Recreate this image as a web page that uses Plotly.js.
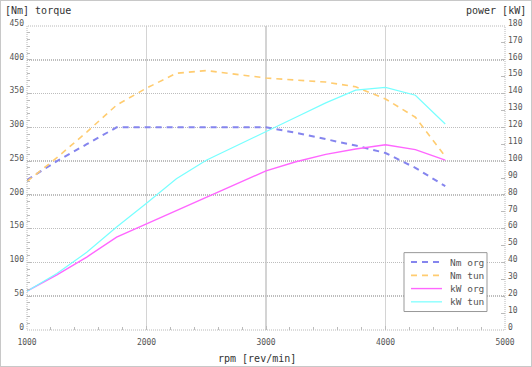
<!DOCTYPE html>
<html>
<head>
<meta charset="utf-8">
<script src="https://cdn.plot.ly/plotly-3.0.1.min.js"></script>
<style>
html,body{margin:0;padding:0;background:#fff;}
#chart{width:532px;height:367px;}
</style>
</head>
<body>
<div id="chart"></div>
<script>
// rpm sample points
const rpm = [1000, 1250, 1500, 1750, 2000, 2250, 2500, 2750, 3000, 3250, 3500, 3750, 4000, 4250, 4500];
// torque [Nm]
const nmOrg = [222, 250, 275, 300, 300, 300, 300, 300, 300, 292, 283, 273, 262, 240, 213];
const nmTun = [220, 255, 293, 333, 358, 380, 384, 378, 373, 370, 367, 360, 342, 315, 257];
// power [kW]
const kwOrg = [23, 32.7, 43.2, 55, 62.8, 70.7, 78.5, 86.4, 94.2, 99.6, 104, 107.2, 109.7, 106.8, 100.6];
const kwTun = [23, 33.4, 46, 61, 75, 89.5, 100.5, 108.9, 117.2, 126, 134.5, 142, 143.6, 139, 122];

const seriesNames = ['Nm org', 'Nm tun', 'kW org', 'kW tun'];
const leftTicks = [0, 50, 100, 150, 200, 250, 300, 350, 400, 450];
const rightTicks = [0,10,20,30,40,50,60,70,80,90,100,110,120,130,140,150,160,170,180];
const xTicks = [1000, 2000, 3000, 4000, 5000];

const mono = 'DejaVu Sans Mono, monospace';
const tickFont = {family: mono, size: 8, color: '#555'};

const traces = [
  {x: rpm, y: nmOrg, name: seriesNames[0], type: 'scatter', mode: 'lines',
   line: {color: '#8585ee', width: 2, dash: '6px,5px'}, yaxis: 'y'},
  {x: rpm, y: nmTun, name: seriesNames[1], type: 'scatter', mode: 'lines',
   line: {color: '#ffcc70', width: 1.6, dash: '6px,5px'}, yaxis: 'y'},
  {x: rpm, y: kwOrg, name: seriesNames[2], type: 'scatter', mode: 'lines',
   line: {color: '#ff66ff', width: 1.4}, yaxis: 'y2'},
  {x: rpm, y: kwTun, name: seriesNames[3], type: 'scatter', mode: 'lines',
   line: {color: '#77ffff', width: 1.2}, yaxis: 'y2'}
];

// plot area in pixels (for the hand-built legend box)
const M = {l: 27, r: 27, t: 26, b: 36.5};
const W = 532, H = 367;
const pw = W - M.l - M.r, ph = H - M.t - M.b;
const px = v => (v - M.l) / pw;
const py = v => (H - M.b - v) / ph;

const shapes = [
  {type: 'rect', xref: 'paper', yref: 'paper', x0: 0, x1: 1, y0: 0, y1: 1,
   line: {color: '#b8b8b8', width: 1, dash: '1px,1px'}, layer: 'above'},
  // legend frame
  {type: 'rect', xref: 'paper', yref: 'paper', x0: px(404), x1: px(487), y0: py(312), y1: py(253),
   fillcolor: '#ffffff', line: {color: '#999999', width: 1}, layer: 'above'}
];
const annotations = [
  {text: '[Nm] torque', xref: 'paper', yref: 'paper', x: 0, y: 1,
   xanchor: 'left', yanchor: 'middle', xshift: -24, yshift: 16,
   showarrow: false, font: {family: mono, size: 10, color: '#333'}},
  {text: 'power [kW]', xref: 'paper', yref: 'paper', x: 1, y: 1,
   xanchor: 'right', yanchor: 'middle', xshift: 23, yshift: 16,
   showarrow: false, font: {family: mono, size: 10, color: '#333'}},
  {text: 'rpm [rev/min]', xref: 'paper', yref: 'paper', x: 0.482, y: 0,
   xanchor: 'center', yanchor: 'middle', yshift: -28,
   showarrow: false, font: {family: mono, size: 10, color: '#333'}}
];
const legendRows = [262.5, 275.8, 289, 302.3];
traces.forEach((t, i) => {
  shapes.push({type: 'line', xref: 'paper', yref: 'paper',
    x0: px(411), x1: px(442), y0: py(legendRows[i]), y1: py(legendRows[i]),
    line: {color: t.line.color, width: t.line.width, dash: t.line.dash || 'solid'}, layer: 'above'});
  annotations.push({text: t.name, xref: 'paper', yref: 'paper', x: px(448), y: py(legendRows[i]),
    xanchor: 'left', yanchor: 'middle', showarrow: false,
    font: {family: mono, size: 9.5, color: '#555'}});
});

const layout = {
  width: W, height: H,
  margin: {l: M.l, r: M.r, t: M.t, b: M.b, pad: 0},
  paper_bgcolor: '#ffffff', plot_bgcolor: '#ffffff',
  showlegend: false,
  xaxis: {
    range: [1000, 5000], tickvals: xTicks, ticktext: xTicks.map(String),
    showgrid: true, gridcolor: '#d4d4d4', gridwidth: 1.5,
    zeroline: false, showline: false,
    ticks: 'inside', ticklen: 4, tickcolor: '#bbbbbb',
    minor: {dtick: 200, ticks: 'inside', ticklen: 3, tickcolor: '#bbbbbb', showgrid: false},
    tickfont: tickFont, ticklabelstandoff: 6, fixedrange: true
  },
  yaxis: {
    range: [0, 450], tickvals: leftTicks, ticktext: leftTicks.map(String),
    showgrid: true, gridcolor: '#bdbdbd', gridwidth: 1.5, griddash: '1px,1px',
    zeroline: false, showline: false,
    ticks: 'inside', ticklen: 4, tickcolor: '#bbbbbb',
    minor: {dtick: 10, ticks: 'inside', ticklen: 3, tickcolor: '#bbbbbb', showgrid: false},
    tickfont: tickFont, ticklabelstandoff: 2, ticklabelshift: -3, fixedrange: true
  },
  yaxis2: {
    range: [0, 180], tickvals: rightTicks, ticktext: rightTicks.map(String),
    overlaying: 'y', side: 'right', showgrid: false,
    zeroline: false, showline: false,
    ticks: 'inside', ticklen: 4, tickcolor: '#bbbbbb',
    tickfont: tickFont, ticklabelstandoff: 2, ticklabelshift: -3, fixedrange: true
  },
  shapes: shapes,
  annotations: annotations
};

Plotly.newPlot('chart', traces, layout, {displayModeBar: false, staticPlot: true}).then(function(){
  // outer border of the image
  const svg = document.querySelector('#chart .main-svg');
  const r = document.createElementNS('http://www.w3.org/2000/svg', 'rect');
  r.setAttribute('x', 0.5); r.setAttribute('y', 0.5);
  r.setAttribute('width', 531); r.setAttribute('height', 366);
  r.setAttribute('fill', 'none'); r.setAttribute('stroke', '#c8c8c8');
  svg.appendChild(r);
});
</script>
</body>
</html>
